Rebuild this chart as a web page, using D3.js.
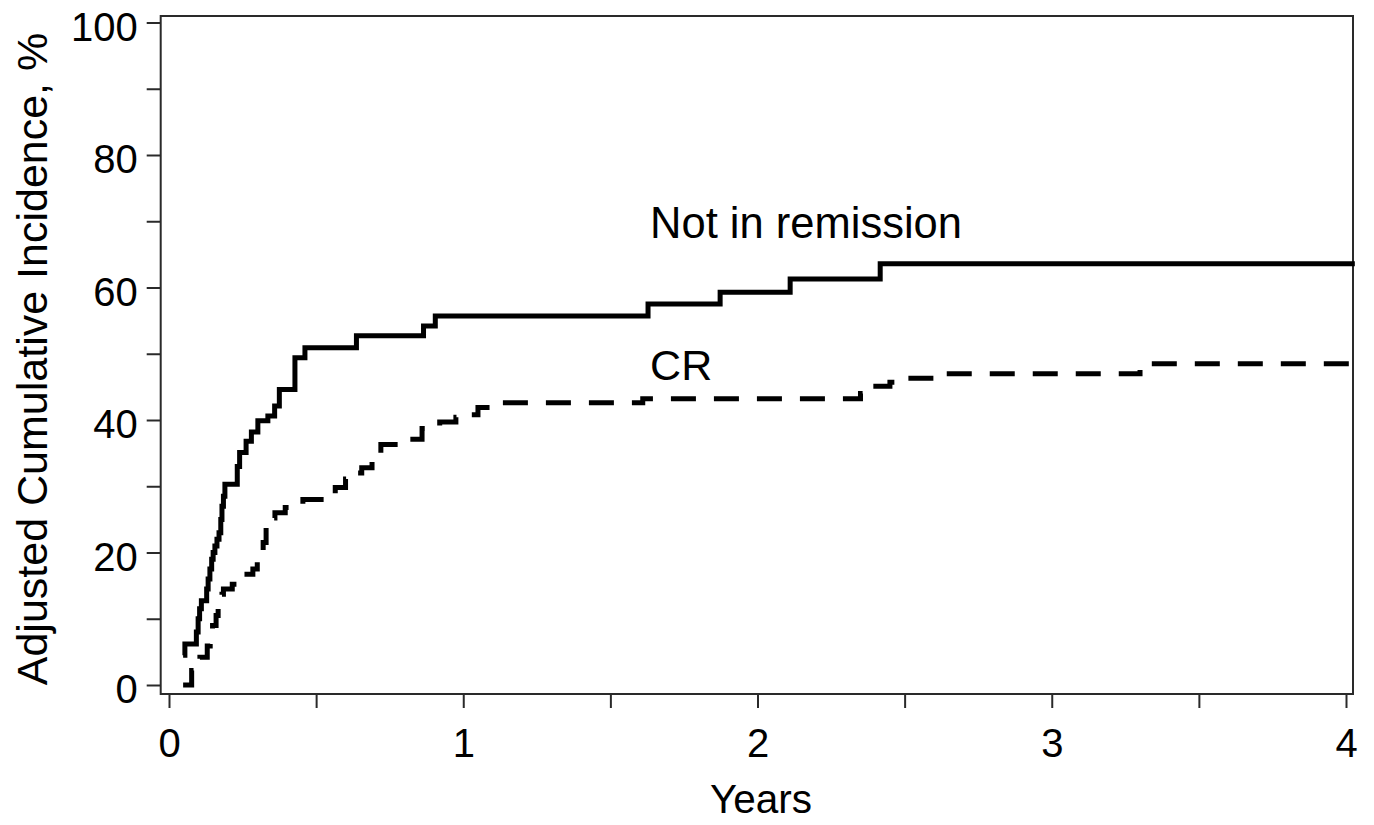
<!DOCTYPE html>
<html>
<head>
<meta charset="utf-8">
<script src="https://cdn.jsdelivr.net/npm/d3@7"></script>
<style>
  html, body { margin: 0; padding: 0; background: #fff; }
  svg { display: block; }
  text { font-family: "Liberation Sans", Arial, Helvetica, sans-serif; fill: #000; }
</style>
</head>
<body>
<svg id="chart" width="1374" height="825"></svg>
<script>
// ---- data ----
const notRemTimes  = [0.048, 0.054, 0.093, 0.099, 0.104, 0.110, 0.128, 0.133, 0.139, 0.145, 0.150, 0.156, 0.163, 0.170, 0.176, 0.180, 0.185, 0.190, 0.232, 0.240, 0.262, 0.280, 0.302, 0.336, 0.359, 0.375, 0.428, 0.462, 0.637, 0.865, 0.905, 1.628, 1.873, 2.111, 2.417, 4.03];
const notRemValues = [4.5, 6.2, 8.0, 10.0, 11.5, 12.7, 14.5, 16.0, 17.5, 19.0, 20.0, 21.0, 22.0, 23.0, 25.0, 27.0, 28.5, 30.3, 33.0, 35.1, 36.8, 38.2, 39.9, 40.6, 42.1, 44.6, 49.4, 50.9, 52.7, 54.2, 55.7, 57.5, 59.3, 61.3, 63.6, 63.6];

const crTimes  = [0.048, 0.077, 0.095, 0.105, 0.130, 0.140, 0.148, 0.160, 0.167, 0.180, 0.185, 0.215, 0.250, 0.265, 0.285, 0.300, 0.310, 0.320, 0.330, 0.350, 0.360, 0.395, 0.455, 0.540, 0.565, 0.600, 0.640, 0.655, 0.690, 0.720, 0.820, 0.860, 0.920, 0.975, 1.010, 1.050, 1.100, 1.610, 2.350, 2.370, 2.450, 2.500, 2.600, 3.300, 4.030];
const crValues = [0, 2.2, 3.5, 4.2, 5.9, 7.5, 9.0, 10.5, 11.5, 13.7, 14.5, 15.2, 16.2, 16.7, 17.5, 18.7, 20.0, 21.5, 23.8, 25.2, 26.0, 26.8, 28.0, 28.4, 29.8, 31.1, 32.0, 32.8, 34.3, 36.3, 37.1, 38.7, 39.7, 40.4, 40.8, 41.9, 42.6, 43.2, 44.0, 45.1, 45.7, 46.3, 47.0, 48.5, 48.5];

const xMajorTicks = [0, 1, 2, 3, 4];
const xMinorTicks = [0.5, 1.5, 2.5, 3.5];
const yMajorTicks = [0, 20, 40, 60, 80, 100];
const yMinorTicks = [10, 30, 50, 70, 90];

const seriesLabels = ["Not in remission", "CR"];
const labelPos = [[1.635, 67.5], [1.635, 46.0]]; // [years, %] anchors for the in-plot labels
const xTitle = "Years";
const yTitle = "Adjusted Cumulative Incidence, %";

// ---- layout ----
const svg = d3.select("#chart");
const x = d3.scaleLinear().domain([0, 4]).range([169, 1346]);
const y = d3.scaleLinear().domain([0, 100]).range([685, 22.5]);
const frame = { left: 160.7, right: 1353, top: 16, bottom: 694 };

// frame
svg.append("rect")
  .attr("x", frame.left).attr("y", frame.top)
  .attr("width", frame.right - frame.left).attr("height", frame.bottom - frame.top)
  .attr("fill", "none").attr("stroke", "#2a2a2a").attr("stroke-width", 2);

// y axis
const yAxis = svg.append("g").attr("transform", `translate(${frame.left},0)`)
  .call(d3.axisLeft(y).tickValues(yMajorTicks.concat(yMinorTicks).sort((a,b)=>a-b))
        .tickSize(14).tickFormat(d => yMajorTicks.includes(d) ? d : ""));
yAxis.select(".domain").remove();
yAxis.selectAll(".tick line").attr("stroke", "#2a2a2a").attr("stroke-width", 2);
yAxis.selectAll(".tick text")
  .attr("font-size", 40).attr("fill", "#000")
  .attr("x", -23).attr("dy", "0.44em");

// x axis
const xAxis = svg.append("g").attr("transform", `translate(0,${frame.bottom})`)
  .call(d3.axisBottom(x).tickValues(xMajorTicks.concat(xMinorTicks).sort((a,b)=>a-b))
        .tickSize(14).tickFormat(d => xMajorTicks.includes(d) ? d : ""));
xAxis.select(".domain").remove();
xAxis.selectAll(".tick line").attr("stroke", "#2a2a2a").attr("stroke-width", 2);
xAxis.selectAll(".tick text")
  .attr("font-size", 40).attr("fill", "#000")
  .attr("y", 63).attr("dy", 0);

// axis titles
svg.append("text")
  .attr("x", 761).attr("y", 813)
  .attr("text-anchor", "middle").attr("font-size", 40.5)
  .text(xTitle);
svg.append("text")
  .attr("transform", "translate(47,359) rotate(-90)")
  .attr("text-anchor", "middle").attr("font-size", 43)
  .text(yTitle);

// lines
const line = d3.line().x(d => x(d[0])).y(d => y(d[1])).curve(d3.curveStepAfter);
const notRem = notRemTimes.map((t, i) => [t, notRemValues[i]]);
const cr = crTimes.map((t, i) => [t, crValues[i]]);

svg.append("path").datum(notRem)
  .attr("d", line).attr("fill", "none").attr("stroke", "#000")
  .attr("stroke-width", 5).attr("stroke-linejoin", "miter");

svg.append("path").datum(cr)
  .attr("d", line).attr("fill", "none").attr("stroke", "#000")
  .attr("stroke-width", 5).attr("stroke-dasharray", "25,18");

// series labels
svg.append("text")
  .attr("x", x(labelPos[0][0])).attr("y", y(labelPos[0][1]))
  .attr("font-size", 43.5).text(seriesLabels[0]);
svg.append("text")
  .attr("x", x(labelPos[1][0])).attr("y", y(labelPos[1][1]))
  .attr("font-size", 43).text(seriesLabels[1]);
</script>
</body>
</html>
